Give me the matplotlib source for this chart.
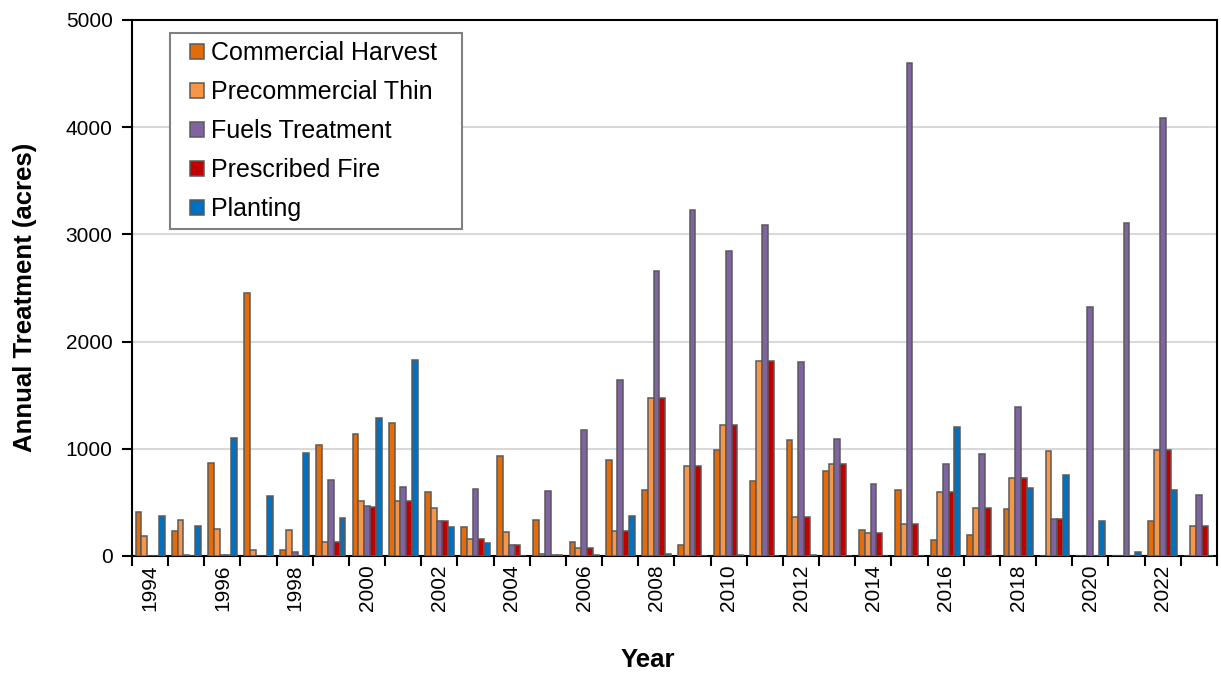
import matplotlib
matplotlib.use("Agg")
import matplotlib.pyplot as plt
from matplotlib.patches import Rectangle
import numpy as np

plt.rcParams['font.family'] = ['Liberation Sans', 'DejaVu Sans']

years = list(range(1994, 2024))

commercial_harvest = [415, 235, 871, 2449, 54, 1033, 1136, 1238, 595, 266,
                      931, 340, 132, 893, 620, 98, 993, 697, 1086, 794,
                      238, 614, 148, 197, 437, 0, 0, 0, 331, 0]
precommercial_thin = [182, 334, 253, 54, 244, 129, 514, 517, 449, 157,
                      228, 15, 79, 231, 1477, 837, 1223, 1816, 362, 856,
                      210, 300, 595, 452, 732, 983, 0, 0, 990, 281]
fuels_treatment = [0, 8, 8, 0, 33, 707, 464, 648, 325, 626,
                   107, 604, 1176, 1642, 2658, 3223, 2847, 3083, 1807, 1092,
                   670, 4602, 856, 949, 1390, 343, 2319, 3105, 4087, 570]
prescribed_fire = [0, 0, 8, 0, 0, 129, 458, 517, 325, 154,
                   107, 10, 76, 231, 1477, 837, 1223, 1816, 362, 856,
                   210, 300, 595, 452, 732, 343, 0, 0, 990, 281]
planting = [377, 281, 1101, 564, 958, 353, 1291, 1825, 266, 117,
            0, 10, 5, 374, 15, 0, 5, 0, 8, 0,
            0, 0, 1204, 0, 638, 760, 325, 33, 614, 0]

series_names = ["Commercial Harvest", "Precommercial Thin", "Fuels Treatment",
                "Prescribed Fire", "Planting"]
series_values = [commercial_harvest, precommercial_thin, fuels_treatment,
                 prescribed_fire, planting]
series_colors = ["#E36C09", "#F79646", "#8064A2", "#C00000", "#0070C0"]

W, H = 1221, 675
fig = plt.figure(figsize=(W / 100, H / 100), dpi=100)
ax = fig.add_axes([0.1081, 0.1763, 0.8886, 0.7941])

x = np.arange(len(years))
bar_w = 0.16
for i, (name, vals, col) in enumerate(zip(series_names, series_values, series_colors)):
    ax.bar(x + (i - 2) * bar_w, vals, width=bar_w, color=col,
           edgecolor="#5a5a5a", linewidth=1.1, label=name, zorder=3)

ax.set_xlim(-0.5, len(years) - 0.5)
ax.set_ylim(0, 5000)
ax.set_yticks(range(0, 5001, 1000))
ax.yaxis.grid(True, color="#d9d9d9", linewidth=1.5, zorder=0)
ax.set_axisbelow(True)

# tick marks on category boundaries, year labels on every other category
ax.set_xticks(np.arange(-0.5, len(years), 1.0))
ax.set_xticklabels([])
label_pos = [i for i, y in enumerate(years) if y % 2 == 0]
ax.set_xticks(label_pos, minor=True)
ax.set_xticklabels([str(years[i]) for i in label_pos], minor=True,
                   rotation=90, fontsize=15)
ax.tick_params(axis="x", which="major", direction="out", length=7, width=1.5,
               color="black")
ax.tick_params(axis="x", which="minor", length=0, pad=6)
ax.tick_params(axis="y", direction="out", length=7, width=1.5, labelsize=15,
               pad=7)

for sp in ax.spines.values():
    sp.set_color("black")
    sp.set_linewidth(1.5)

ax.set_xlabel("Year", fontsize=18.5, fontweight="bold")
ax.xaxis.set_label_coords(0.475, -0.172)
ax.set_ylabel("Annual Treatment (acres)", fontsize=18.5, fontweight="bold")
ax.yaxis.set_label_coords(-0.088, 0.483)

# legend entries without frame; the box is drawn separately so its
# horizontal and vertical padding can differ
frame = Rectangle((170 / W, 1 - 229 / H), (462 - 170) / W, (229 - 33) / H,
                  transform=fig.transFigure, facecolor="white",
                  edgecolor="#808080", linewidth=1.5, zorder=5, clip_on=False)
ax.add_patch(frame)
leg = ax.legend(loc="upper left", bbox_to_anchor=(190 / W, 1 - 41 / H),
                bbox_transform=fig.transFigure, fontsize=18,
                frameon=False, handlelength=0.55, handleheight=0.55,
                handletextpad=0.3, labelspacing=0.6, borderpad=0.0,
                borderaxespad=0.0)
leg.set_zorder(6)

fig.savefig("out.png", dpi=100)
